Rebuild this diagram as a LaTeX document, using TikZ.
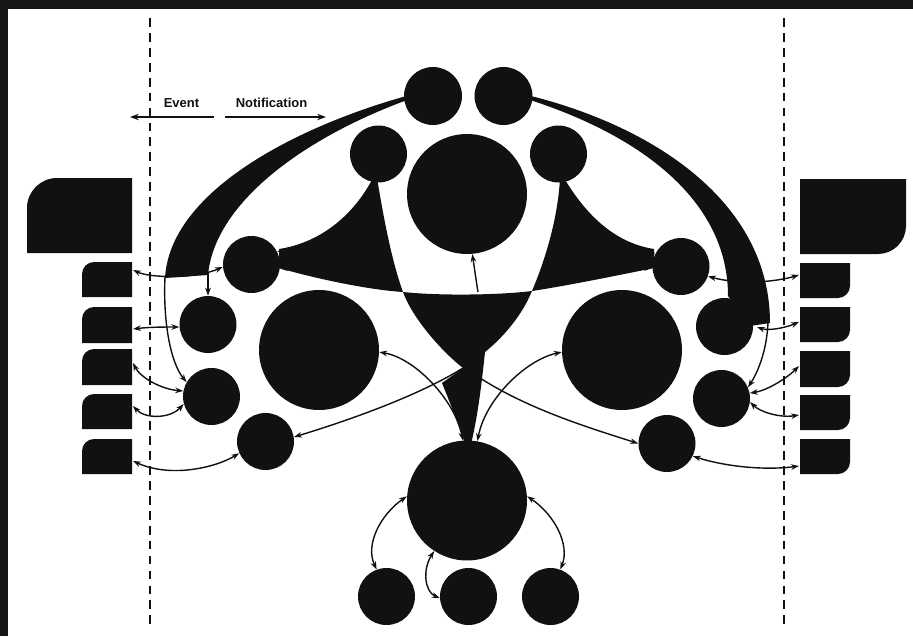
\documentclass[tikz,border=0pt]{standalone}
\usepackage{fontspec}
\setmainfont{Liberation Sans}
\usetikzlibrary{arrows.meta}
\definecolor{ink}{HTML}{111111}
\definecolor{framecol}{HTML}{161616}
\newcommand{\tlbox}[5]{\fill[ink] (#1,#4) -- (#1,#2+#5) .. controls (#1,#2+0.45*#5) and (#1+0.45*#5,#2) .. (#1+#5,#2) -- (#3,#2) -- (#3,#4) -- cycle;}
\newcommand{\brbox}[5]{\fill[ink] (#1,#2) -- (#3,#2) -- (#3,#4-#5) .. controls (#3,#4-0.45*#5) and (#3-0.45*#5,#4) .. (#3-#5,#4) -- (#1,#4) -- cycle;}
\begin{document}
\begin{tikzpicture}[x=0.02cm,y=-0.02cm,
  dot/.style={circle,fill=ink,inner sep=0pt,minimum size=1.14cm},
  bigdot/.style={circle,fill=ink,inner sep=0pt,minimum size=2.4cm},
  link/.style={draw=ink,line width=0.8pt},
  dlink/.style={link,{Stealth[length=4.5pt,width=3.2pt]}-{Stealth[length=4.5pt,width=3.2pt]}},
  slink/.style={link,-{Stealth[length=4.5pt,width=3.2pt]}},
  legarrow/.style={draw=ink,line width=0.9pt,-{Stealth[length=5pt,width=3.6pt]}},
  divider/.style={draw=ink,line width=0.9pt,dash pattern=on 5pt off 3.5pt},
  lbl/.style={font=\bfseries\fontsize{7.4}{8}\selectfont,text=ink,inner sep=0pt}]
\useasboundingbox (0,0) rectangle (913,636);
\fill[white] (0,0) rectangle (913,636);
\fill[framecol] (0,0) rectangle (913,9);
\fill[framecol] (0,0) rectangle (8,636);

% dashed dividers
\coordinate (dl1) at (150,18); \coordinate (dl2) at (150,624);
\coordinate (dr1) at (784,18); \coordinate (dr2) at (784,624);
\draw[divider] (dl1) -- (dl2);
\draw[divider] (dr1) -- (dr2);

% legend
\node[lbl] (ev) at (181.5,103) {Event};
\node[lbl] (nt) at (271.5,103) {Notification};
\coordinate (evs) at (214,117); \coordinate (eve) at (130,117);
\coordinate (nts) at (225,117); \coordinate (nte) at (326,117);
\draw[legarrow] (evs) -- (eve);
\draw[legarrow] (nts) -- (nte);

% left boxes
\tlbox{27}{178}{132}{253}{30}
\tlbox{82}{262}{132}{297}{12}
\tlbox{82}{307}{132}{343}{12}
\tlbox{82}{349}{132}{385}{12}
\tlbox{82}{394}{132}{429}{12}
\tlbox{82}{439}{132}{474}{12}
% right boxes
\brbox{800}{179}{906}{254}{28}
\brbox{800}{263}{850}{298}{12}
\brbox{800}{307}{850}{342}{12}
\brbox{800}{351}{850}{387}{12}
\brbox{800}{395}{850}{430}{12}
\brbox{800}{439}{850}{474}{12}

% tapered shapes
\fill[ink] (410,95) .. controls (300,125) and (170,190) .. (165,278) -- (208,275) .. controls (215,200) and (310,135) .. (410,99) -- cycle;
\fill[ink] (527,95) .. controls (650,125) and (770,200) .. (770,323) -- (750,326) -- (728,296) .. controls (728,200) and (640,135) .. (527,99) -- cycle;
\fill[ink] (373,178) .. controls (352,218) and (318,243) .. (279,249) -- (279,268) .. controls (317,279) and (370,290) .. (403,292) .. controls (392,262) and (384,220) .. (377,178) -- cycle;
\fill[ink] (564,178) .. controls (586,215) and (615,243) .. (654,249) -- (654,268) .. controls (615,276) and (565,286) .. (532,291) .. controls (546,258) and (558,217) .. (560,178) -- cycle;
\fill[ink] (403,292) .. controls (440,296) and (500,295) .. (532,291) .. controls (521,318) and (500,340) .. (485,352) .. controls (481,390) and (477,420) .. (471,444) -- (465,444) .. controls (457,420) and (448,398) .. (442,383) -- (463,368) .. controls (440,350) and (412,317) .. (403,292) -- cycle;

% circles
\node[dot,minimum size=1.16cm] (T1) at (433,96) {};
\node[dot,minimum size=1.16cm] (T2) at (503.5,96) {};
\node[dot] (S1) at (378.5,154) {};
\node[dot] (S2) at (558.5,154) {};
\node[bigdot] (T) at (467,194) {};
\node[dot] (L1) at (251.5,264.5) {};
\node[dot] (R1) at (681,266.5) {};
\node[bigdot] (BL) at (319,350) {};
\node[bigdot] (BR) at (622,350) {};
\node[dot] (C2) at (208,324.5) {};
\node[dot] (C3) at (211.5,396.5) {};
\node[dot] (C4) at (265.5,441.5) {};
\node[dot] (R2) at (724.5,326.5) {};
\node[dot] (R3) at (721.5,398.5) {};
\node[dot] (R4) at (667,443.5) {};
\node[bigdot] (B) at (467,500.5) {};
\node[dot] (D1) at (386.5,596.5) {};
\node[dot] (D2) at (468.5,596.5) {};
\node[dot] (D3) at (550.5,596.5) {};

% connector ends
\coordinate (lr1) at (133,270); \coordinate (lr2) at (133,329);
\coordinate (lr3) at (133,363); \coordinate (lr4) at (133,406);
\coordinate (lr5) at (133,461);
\coordinate (rr1) at (799,275); \coordinate (rr2) at (799,322);
\coordinate (rr3) at (799,366); \coordinate (rr4) at (799,415);
\coordinate (rr5) at (799,466);
\coordinate (cLo) at (165,277); \coordinate (cLi) at (208,272);
\coordinate (cRo) at (768,322); \coordinate (cRb) at (757,327);
\coordinate (fL) at (463,368); \coordinate (fR) at (480,378);
\coordinate (lens) at (478,292);
\coordinate (wL1) at (300,250); \coordinate (wL2) at (300,268);
\coordinate (wR1) at (632,250); \coordinate (wR2) at (632,268);
\coordinate (stem) at (468,420);

% wedge tips
\draw[slink] (wL1) -- (L1.27);
\draw[slink] (wL2) -- (L1.-8);
\draw[slink] (wR1) -- (R1.153);
\draw[slink] (wR2) -- (R1.183);
\draw[slink] (stem) -- (B.92);

% left connectors
\draw[dlink] (lr1) .. controls (150,278) and (195,279) .. (L1.185);
\draw[dlink] (lr2) .. controls (150,327) and (165,327) .. (C2.185);
\draw[dlink] (lr3) .. controls (140,377) and (160,389) .. (C3.169);
\draw[dlink] (lr4) .. controls (145,419) and (170,419) .. (C3.195);
\draw[dlink] (lr5) .. controls (170,478) and (215,468) .. (C4.204);
\draw[slink] (cLo) .. controls (163,320) and (170,362) .. (C3.150);
\draw[slink] (cLi) -- (C2.90);

% right connectors
\draw[dlink] (R1.-20) .. controls (740,285) and (775,282) .. (rr1);
\draw[dlink] (cRb) .. controls (768,331) and (785,328) .. (rr2);
\draw[dlink] (R3.11) .. controls (765,391) and (785,380) .. (rr3);
\draw[dlink] (R3.-7) .. controls (760,412) and (780,418) .. (rr4);
\draw[dlink] (R4.-26) .. controls (730,468) and (770,470) .. (rr5);
\draw[slink] (cRo) .. controls (767,350) and (758,372) .. (R3.23);

% centre connectors
\draw[dlink] (BL.-2) .. controls (415,358) and (455,400) .. (B.94);
\draw[dlink] (BR.182) .. controls (525,360) and (485,400) .. (B.80);
\draw[slink] (fL) .. controls (420,395) and (350,420) .. (C4.9);
\draw[slink] (fR) .. controls (530,410) and (590,428) .. (R4.180);
\draw[slink] (lens) .. controls (476,280) and (474,265) .. (T.275);

% bottom connectors
\draw[dlink] (B.176) .. controls (380,515) and (365,545) .. (D1.110);
\draw[dlink] (B.237) .. controls (422,570) and (425,592) .. (D2.183);
\draw[dlink] (B.4) .. controls (555,515) and (570,545) .. (D3.70);
\end{tikzpicture}
\end{document}
